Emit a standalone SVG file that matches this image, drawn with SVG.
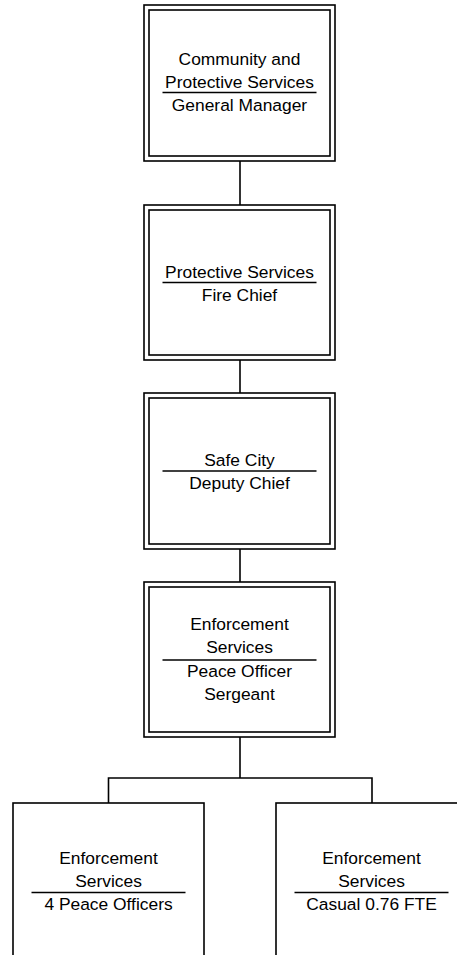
<svg xmlns="http://www.w3.org/2000/svg" width="457" height="955" viewBox="0 0 457 955">
  <style>
    .box { fill: #ffffff; stroke: #000000; stroke-width: 1.6; }
    .inner { fill: none; stroke: #000000; stroke-width: 1.6; }
    .rule { stroke: #000000; stroke-width: 1.6; }
    .wire { fill: none; stroke: #000000; stroke-width: 1.6; }
    text { font-family: "Liberation Sans", Arial, sans-serif; font-size: 17.4px; fill: #000000; text-anchor: middle; }
  </style>

  <!-- reporting lines -->
  <g id="connectors">
    <line class="wire" x1="240" y1="161" x2="240" y2="205"/>
    <line class="wire" x1="240" y1="360" x2="240" y2="393"/>
    <line class="wire" x1="240" y1="549" x2="240" y2="582"/>
    <line class="wire" x1="240" y1="737" x2="240" y2="778"/>
    <polyline class="wire" points="108.5,803 108.5,778 372,778 372,803"/>
  </g>

  <!-- general manager -->
  <g id="node-gm">
    <rect class="box" x="144" y="5" width="191" height="156"/>
    <rect class="inner" x="149" y="10" width="181" height="146"/>
    <text x="239.5" y="65">Community and</text>
    <text x="239.5" y="88">Protective Services</text>
    <line class="rule" x1="162.5" y1="92.5" x2="316.5" y2="92.5"/>
    <text x="239.5" y="111">General Manager</text>
  </g>

  <!-- fire chief -->
  <g id="node-fire-chief">
    <rect class="box" x="144" y="205" width="191" height="155"/>
    <rect class="inner" x="149" y="210" width="181" height="145"/>
    <text x="239.5" y="277.5">Protective Services</text>
    <line class="rule" x1="162.5" y1="282.5" x2="316.5" y2="282.5"/>
    <text x="239.5" y="300.5">Fire Chief</text>
  </g>

  <!-- deputy chief -->
  <g id="node-deputy-chief">
    <rect class="box" x="144" y="393" width="191" height="156"/>
    <rect class="inner" x="149" y="398" width="181" height="146"/>
    <text x="239.5" y="465.5">Safe City</text>
    <line class="rule" x1="162.5" y1="471" x2="316.5" y2="471"/>
    <text x="239.5" y="488.5">Deputy Chief</text>
  </g>

  <!-- sergeant -->
  <g id="node-sergeant">
    <rect class="box" x="144" y="582" width="191" height="155"/>
    <rect class="inner" x="149" y="587" width="181" height="145"/>
    <text x="239.5" y="630">Enforcement</text>
    <text x="239.5" y="653">Services</text>
    <line class="rule" x1="162.5" y1="660" x2="316.5" y2="660"/>
    <text x="239.5" y="677">Peace Officer</text>
    <text x="239.5" y="700">Sergeant</text>
  </g>

  <!-- peace officers -->
  <g id="node-peace-officers">
    <rect class="box" x="13" y="803" width="191" height="160"/>
    <text x="108.5" y="864">Enforcement</text>
    <text x="108.5" y="887">Services</text>
    <line class="rule" x1="31.5" y1="892.5" x2="185.5" y2="892.5"/>
    <text x="108.5" y="910">4 Peace Officers</text>
  </g>

  <!-- casual staff -->
  <g id="node-casual">
    <rect class="box" x="276" y="803" width="191" height="160"/>
    <text x="371.5" y="864">Enforcement</text>
    <text x="371.5" y="887">Services</text>
    <line class="rule" x1="294.5" y1="892.5" x2="448.5" y2="892.5"/>
    <text x="371.5" y="910">Casual 0.76 FTE</text>
  </g>
</svg>
